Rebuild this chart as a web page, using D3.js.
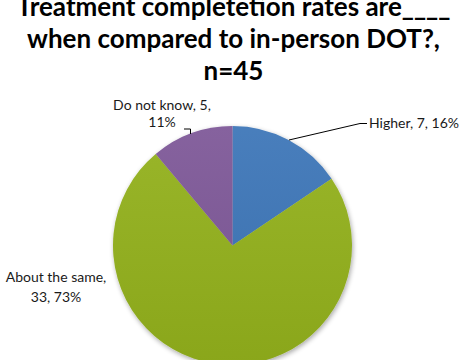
<!DOCTYPE html>
<html>
<head>
<meta charset="utf-8">
<script src="https://cdn.jsdelivr.net/npm/d3@7"></script>
<style>
  body { margin: 0; background: #fff; }
  svg { display: block; font-family: Lato, "Open Sans", sans-serif; }
</style>
</head>
<body>
<svg width="467" height="360"></svg>
<script>
(function(d3) {
    'use strict';

    // answers, clockwise from 12 o'clock
    const categories = ['Higher', 'About the same', 'Do not know'];
    const counts = [7, 33, 5];
    const percents = ['16%', '73%', '11%'];
    const colors = ['#3d76b8', '#93b11d', '#7e5898'];
    const titleLines = ['Treatment completetion rates are____', 'when compared to in-person DOT?,', 'n=45'];

    const svg = d3.select('svg');
    const width = +svg.attr('width');

    const defs = svg.append('defs');
    const shadow = defs.append('filter').attr('id', 'shadow')
        .attr('x', '-10%').attr('y', '-10%').attr('width', '120%').attr('height', '120%');
    shadow.append('feGaussianBlur').attr('in', 'SourceAlpha').attr('stdDeviation', 2.5);
    shadow.append('feOffset').attr('dx', 1).attr('dy', 2).attr('result', 'blur');
    shadow.append('feComponentTransfer').append('feFuncA').attr('type', 'linear').attr('slope', 0.35);
    const merge = shadow.append('feMerge');
    merge.append('feMergeNode');
    merge.append('feMergeNode').attr('in', 'SourceGraphic');

    const shade = defs.append('linearGradient').attr('id', 'shade')
        .attr('x1', 0).attr('y1', 0).attr('x2', 0).attr('y2', 1);
    shade.append('stop').attr('offset', '0%').attr('stop-color', '#fff').attr('stop-opacity', 0.06);
    shade.append('stop').attr('offset', '100%').attr('stop-color', '#000').attr('stop-opacity', 0.06);

    // title (first line is cut by the top edge, as in the source)
    svg.append('g').selectAll('text').data(titleLines)
        .enter().append('text')
        .attr('x', width / 2)
        .attr('y', (d, i) => 16 + i * 32)
        .attr('text-anchor', 'middle')
        .attr('font-size', 26)
        .attr('font-weight', 'bold')
        .attr('fill', '#000')
        .text(d => d);

    const cx = 232.5, cy = 245.5, r = 119.5;

    const pie = d3.pie().sort(null).value(d => d);
    const arcs = pie(counts);
    const arc = d3.arc().innerRadius(0).outerRadius(r);

    const g = svg.append('g').attr('transform', `translate(${cx},${cy})`);
    const pieG = g.append('g').attr('filter', 'url(#shadow)');
    pieG.selectAll('path.slice').data(arcs)
        .enter().append('path')
        .attr('class', 'slice')
        .attr('d', arc)
        .attr('fill', (d, i) => colors[i]);
    g.append('circle').attr('r', r).attr('fill', 'url(#shade)');

    // labels
    const labelPos = [
        { x: 369, y: 128, dy: 18, anchor: 'start', lines: [`${categories[0]}, ${counts[0]}, ${percents[0]}`] },
        { x: 56, y: 282, dy: 20, anchor: 'middle', lines: [`${categories[1]},`, `${counts[1]}, ${percents[1]}`] },
        { x: 162, y: 110, dy: 17, anchor: 'middle', lines: [`${categories[2]}, ${counts[2]},`, percents[2]] }
    ];
    const labels = svg.append('g').selectAll('text').data(labelPos)
        .enter().append('text')
        .attr('text-anchor', d => d.anchor)
        .attr('font-size', 14)
        .attr('fill', '#1a1a1a');
    labels.selectAll('tspan').data(d => d.lines.map(l => ({ l, x: d.x, y: d.y, dy: d.dy })))
        .enter().append('tspan')
        .attr('x', d => d.x)
        .attr('y', (d, i) => d.y + i * d.dy)
        .text(d => d.l);

    // leader lines
    const leader = d3.line();
    svg.append('path')
        .attr('d', leader([[289, 140], [360, 123.5], [367, 123.5]]))
        .attr('fill', 'none').attr('stroke', '#000').attr('stroke-width', 1);
    svg.append('path')
        .attr('d', leader([[184, 129], [190.5, 129], [190.5, 134]]))
        .attr('fill', 'none').attr('stroke', '#000').attr('stroke-width', 1);
}(d3));
</script>
</body>
</html>
